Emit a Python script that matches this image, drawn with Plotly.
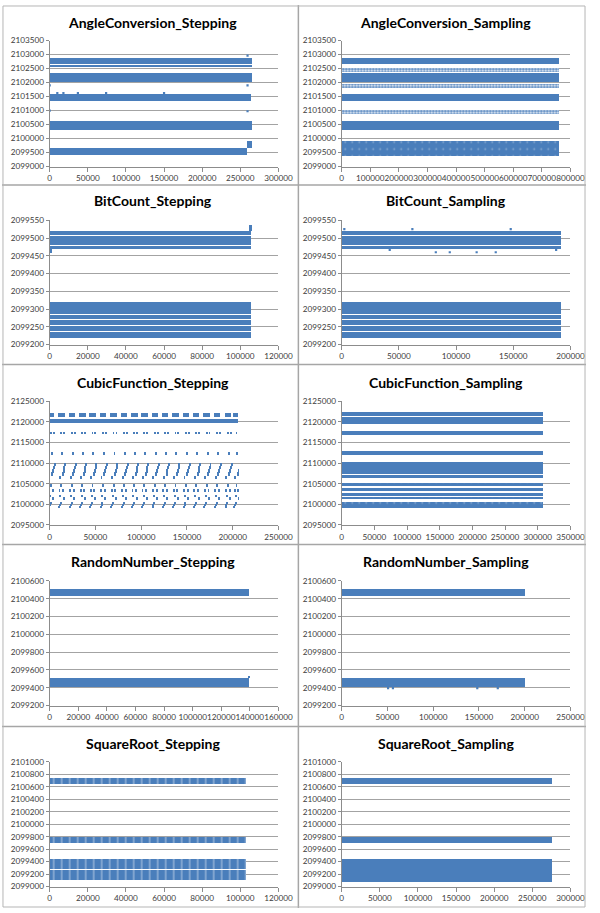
import plotly.graph_objects as go

BLUE = "#4a7ebb"
GRID = "#a3a3a3"
AXIS = "#8c8c8c"
FONT = "Lato"

# ---------------- chart definitions ----------------
titles = ["AngleConversion_Stepping", "AngleConversion_Sampling",
          "BitCount_Stepping", "BitCount_Sampling",
          "CubicFunction_Stepping", "CubicFunction_Sampling",
          "RandomNumber_Stepping", "RandomNumber_Sampling",
          "SquareRoot_Stepping", "SquareRoot_Sampling"]

x_axes = [(0, 300000, 50000), (0, 800000, 100000),
          (0, 120000, 20000), (0, 200000, 50000),
          (0, 250000, 50000), (0, 350000, 50000),
          (0, 160000, 20000), (0, 250000, 50000),
          (0, 120000, 20000), (0, 300000, 50000)]

y_axes = [(2099000, 2103500, 500), (2099000, 2103500, 500),
          (2099200, 2099550, 50), (2099200, 2099550, 50),
          (2095000, 2125000, 5000), (2095000, 2125000, 5000),
          (2099200, 2100600, 200), (2099200, 2100600, 200),
          (2099000, 2101000, 200), (2099000, 2101000, 200)]

# bands: (x_start, x_end, y_low, y_high, kind)
# kind: s=solid, p=sparse scatter, d=dashed (thin vertical gaps), t=textured
angle_step_bands = [
    (0, 265000, 2102670, 2102910, "s"), (0, 265000, 2102560, 2102640, "s"),
    (0, 265000, 2102025, 2102355, "s"), (0, 264000, 2101350, 2101590, "s"),
    (0, 265000, 2100325, 2100645, "s"), (0, 258700, 2099430, 2099677, "s"),
    (258700, 265000, 2099677, 2099910, "s")]
angle_step_pts_x = [0, 259500, 0, 259500, 259500, 10000, 18000, 37000, 74000, 150000]
angle_step_pts_y = [2101900, 2101900, 2101000, 2100975, 2102960, 2101620, 2101620, 2101620, 2101620, 2101620]

angle_samp_bands = [
    (0, 758000, 2102675, 2102910, "s"), (0, 758000, 2102410, 2102540, "p"),
    (0, 758000, 2102035, 2102355, "s"), (0, 758000, 2101820, 2101950, "p"),
    (0, 758000, 2101350, 2101590, "s"), (0, 758000, 2100900, 2101020, "p"),
    (0, 758000, 2100315, 2100645, "s"), (0, 758000, 2099400, 2099940, "t")]

bit_step_bands = [
    (0, 105500, 2099469, 2099478, "s"), (0, 105500, 2099480, 2099490, "s"),
    (0, 105500, 2099492, 2099505, "s"), (0, 105500, 2099507, 2099520, "s"),
    (0, 105500, 2099218, 2099234, "s"), (0, 105500, 2099236, 2099251, "s"),
    (0, 105500, 2099253, 2099268, "s"), (0, 105500, 2099270, 2099283, "s"),
    (0, 105500, 2099285, 2099298, "s"), (0, 105500, 2099300, 2099318, "s"),
    (104500, 105800, 2099520, 2099536, "s"), (0, 1200, 2099458, 2099469, "s")]

bit_samp_bands = [
    (0, 191800, 2099469, 2099478, "s"), (0, 191800, 2099480, 2099490, "s"),
    (0, 191800, 2099492, 2099505, "s"), (0, 191800, 2099507, 2099520, "s"),
    (0, 191800, 2099218, 2099234, "s"), (0, 191800, 2099236, 2099251, "s"),
    (0, 191800, 2099253, 2099268, "s"), (0, 191800, 2099270, 2099283, "s"),
    (0, 191800, 2099285, 2099298, "s"), (0, 191800, 2099300, 2099318, "s")]
bit_samp_pts_x = [2300, 61800, 147800, 42000, 187500, 82300, 94500, 118000, 134700, 147000]
bit_samp_pts_y = [2099525, 2099525, 2099525, 2099467, 2099467, 2099460, 2099460, 2099460, 2099460, 2099228]

# CubicFunction_Stepping: repeating cycles
cubic_step_main = [(0, 206000, 2119560, 2120600, "s")]
cubic_step_end = 206000
cubic_step_cycles = [-2500, 8865, 20567, 31914, 42907, 54254, 65956, 77303, 88650,
                     99643, 110990, 122337, 133684, 145031, 156379, 167726, 179073,
                     190775, 200349]
cubic_step_motif = [  # (dx0, dx1, y_low, y_high) within one cycle
    (0, 7000, 2121200, 2122200),
    (3000, 3900, 2116900, 2117600), (6200, 7100, 2116900, 2117600),
    (4000, 5000, 2112000, 2112700),
    (4500, 5600, 2106800, 2107700), (5400, 6500, 2107600, 2108500),
    (6300, 7400, 2108400, 2109300), (7200, 8200, 2109200, 2109900),
    (1500, 2500, 2106100, 2106700),
    (3000, 4000, 2104200, 2104800),
    (1000, 2000, 2103000, 2103600), (5000, 6000, 2103000, 2103600),
    (2000, 3500, 2101800, 2102200), (5500, 7000, 2101200, 2101600),
    (500, 1700, 2099000, 2099600), (1500, 2700, 2099500, 2100000),
    (2500, 3600, 2099900, 2100400)]

cubic_samp_bands = [
    (0, 308300, 2121300, 2122360, "s"), (0, 308300, 2119400, 2121050, "s"),
    (0, 308300, 2117400, 2117720, "s"), (0, 308300, 2116760, 2117250, "s"),
    (0, 308300, 2111800, 2112760, "s"),
    (0, 308300, 2107300, 2110120, "s"), (0, 308300, 2106200, 2107050, "s"),
    (0, 308300, 2104360, 2105160, "t"),
    (0, 308300, 2103160, 2103960, "s"),
    (0, 308300, 2101900, 2102760, "s"), (0, 308300, 2101160, 2101750, "t"),
    (0, 308300, 2099000, 2100520, "t")]

rand_step_bands = [(0, 139100, 2100433, 2100511, "s"), (0, 139100, 2099411, 2099515, "s"),
                   (138600, 139600, 2099515, 2099530, "s")]
rand_samp_bands = [(0, 199600, 2100433, 2100511, "s"), (0, 199600, 2099411, 2099515, "s")]
rand_samp_pts_x = [50700, 56000, 148200, 170600]
rand_samp_pts_y = [2099396, 2099396, 2099396, 2099396]

sqrt_step_bands = [(0, 102600, 2100640, 2100746, "d"), (0, 102600, 2099704, 2099794, "d"),
                   (0, 102600, 2099275, 2099450, "d"), (0, 102600, 2099110, 2099262, "d")]
sqrt_samp_bands = [(0, 274900, 2100651, 2100746, "s"), (0, 274900, 2099704, 2099794, "s"),
                   (0, 274900, 2099080, 2099450, "s")]

# expand cubic cycles into bands
cubic_step_bands = list(cubic_step_main)
for c in cubic_step_cycles:
    for dx0, dx1, lo, hi in cubic_step_motif:
        a, b = c + dx0, min(c + dx1, cubic_step_end)
        if b > a:
            cubic_step_bands.append((a, b, lo, hi, "s"))

bands = [angle_step_bands, angle_samp_bands, bit_step_bands, bit_samp_bands,
         cubic_step_bands, cubic_samp_bands, rand_step_bands, rand_samp_bands,
         sqrt_step_bands, sqrt_samp_bands]
points = {0: (angle_step_pts_x, angle_step_pts_y), 3: (bit_samp_pts_x, bit_samp_pts_y),
          7: (rand_samp_pts_x, rand_samp_pts_y)}

# pattern styles per kind
styles = {
    "s": dict(color=BLUE, line_width=0),
    "d": dict(color=BLUE, line_width=0,
              pattern=dict(shape="|", fgcolor="white", fillmode="overlay", size=8, solidity=0.15)),
    "t": dict(color=BLUE, line_width=0,
              pattern=dict(shape=".", fgcolor="#c9d8ea", fillmode="overlay", size=7, solidity=0.05)),
    "p": dict(color="white", line_width=0,
              pattern=dict(shape=".", fgcolor=BLUE, bgcolor="white", fillmode="replace",
                           size=3, solidity=0.55)),
}

# ---------------- layout geometry (pixels) ----------------
W, H = 600, 913
col_x = [(49, 284), (349, 584)]
row_y = [(36, 163.3), (217.7, 343.3), (400.7, 525.7), (582.3, 708.3), (765.3, 891.3)]
title_y = [18, 198, 382, 563, 747]
title_x = [155, 456]

fig = go.Figure()
layout_axes = {}
annotations = []
for i in range(10):
    r, c = divmod(i, 2)
    n = i + 1
    xs = "x" if n == 1 else f"x{n}"
    ys = "y" if n == 1 else f"y{n}"
    for kind in ["p", "s", "t", "d"]:
        bl = [b for b in bands[i] if b[4] == kind]
        if not bl:
            continue
        fig.add_trace(go.Bar(
            orientation="h",
            base=[b[0] for b in bl],
            x=[b[1] - b[0] for b in bl],
            y=[(b[2] + b[3]) / 2 for b in bl],
            width=[b[3] - b[2] for b in bl],
            marker=styles[kind],
            xaxis=xs, yaxis=ys, showlegend=False, hoverinfo="skip"))
    if i in points:
        px, py = points[i]
        fig.add_trace(go.Scatter(x=px, y=py, mode="markers", xaxis=xs, yaxis=ys,
                                 marker=dict(symbol="square", size=2.2, color=BLUE,
                                             line_width=0),
                                 showlegend=False, hoverinfo="skip"))
    x0, x1 = col_x[c]
    yt, yb = row_y[r]
    xr = x_axes[i]
    yr = y_axes[i]
    tickfont = dict(family=FONT, size=8.2, color="#3c3c3c")
    layout_axes["xaxis" if n == 1 else f"xaxis{n}"] = dict(
        domain=[x0 / W, x1 / W], range=[xr[0], xr[1]], dtick=xr[2], tick0=0,
        tickformat="d", tickangle=0, showgrid=False, zeroline=False, showline=True,
        linecolor=AXIS, linewidth=1, ticks="outside", ticklen=4, tickcolor=AXIS,
        tickfont=tickfont, anchor=ys, fixedrange=True)
    layout_axes["yaxis" if n == 1 else f"yaxis{n}"] = dict(
        domain=[1 - yb / H, 1 - yt / H], range=[yr[0], yr[1]], dtick=yr[2], tick0=yr[0],
        tickformat="d", showgrid=True, gridcolor=GRID, gridwidth=1, zeroline=False,
        showline=True, linecolor=AXIS, linewidth=1, ticks="outside", ticklen=3,
        tickcolor=AXIS, tickfont=tickfont, anchor=xs, fixedrange=True)
    annotations.append(dict(text=f"<b>{titles[i]}</b>", xref="paper", yref="paper",
                            x=title_x[c] / W, y=1 - title_y[r] / H, showarrow=False,
                            xanchor="center", yanchor="middle",
                            font=dict(family=FONT, size=14, color="black")))

# cell borders
shapes = []
line = dict(color="#a6a6a6", width=1.5)
for yy in [182, 363.5, 545.5, 729.5]:
    shapes.append(dict(type="line", xref="paper", yref="paper", x0=0, x1=1,
                       y0=1 - yy / H, y1=1 - yy / H, line=line))
shapes.append(dict(type="line", xref="paper", yref="paper", x0=304.5 / W, x1=304.5 / W,
                   y0=0, y1=1, line=line))
shapes.append(dict(type="rect", xref="paper", yref="paper", x0=1 / W, x1=599 / W,
                   y0=1 / H, y1=1 - 1 / H, line=dict(color="#b5b5b5", width=1)))

fig.update_layout(width=W, height=H, margin=dict(l=0, r=0, t=0, b=0),
                  paper_bgcolor="white", plot_bgcolor="white", barmode="overlay",
                  bargap=0, showlegend=False, annotations=annotations, shapes=shapes,
                  **layout_axes)
fig.write_html("out.html")
